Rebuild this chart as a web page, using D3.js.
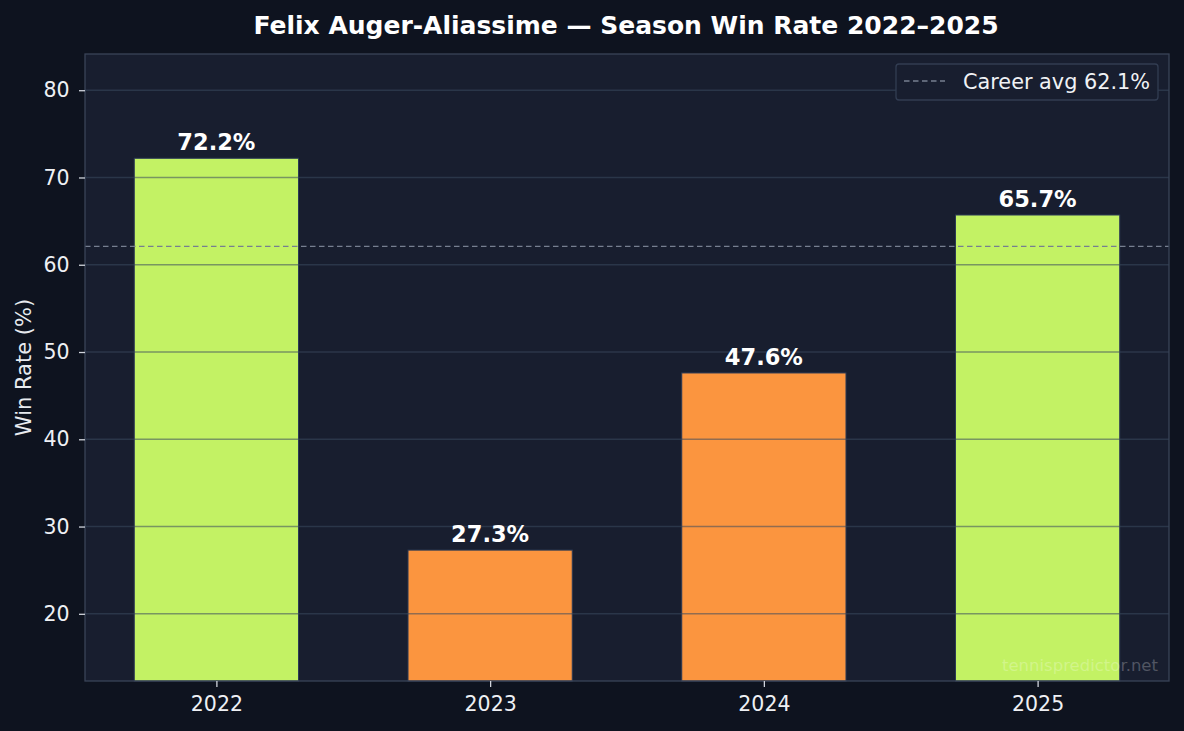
<!DOCTYPE html>
<html><head><meta charset="utf-8">
<script src="https://cdn.jsdelivr.net/npm/d3@7"></script>
<style>html,body{margin:0;padding:0;background:#0e131f;}svg{display:block;font-family:"DejaVu Sans",sans-serif;}</style>
</head><body>
<svg id="c" width="1184" height="731"></svg>
<script>
const years = ["2022","2023","2024","2025"];
const winRates = [72.2, 27.3, 47.6, 65.7];
const barColors = ["#c3f264","#fb953f","#fb953f","#c3f264"];
const yTicks = [20,30,40,50,60,70,80];
const careerAvg = 62.1;
const titleText = "Felix Auger-Aliassime \u2014 Season Win Rate 2022\u20132025";

const svg = d3.select("#c");
const L=85, R=1169, T=54, B=681;
svg.append("rect").attr("width",1184).attr("height",731).attr("fill","#0e131f");
svg.append("rect").attr("x",L).attr("y",T).attr("width",R-L).attr("height",B-T).attr("fill","#181e2f");

const x = d3.scaleLinear().domain([-0.48, 3.48]).range([L,R]);
const y = d3.scaleLinear().domain([12.3, 84.15]).range([B,T]);
const bw = x(0.6)-x(0);

// bars
svg.selectAll(".bar").data(winRates).join("rect")
  .attr("x",(d,i)=>x(i)-bw/2).attr("y",d=>y(d))
  .attr("width",bw).attr("height",d=>B-y(d))
  .attr("fill",(d,i)=>barColors[i]).attr("stroke","#2c3a55").attr("stroke-width",1);

// grid (drawn over bars)
svg.selectAll(".grid").data(yTicks).join("line")
  .attr("x1",L).attr("x2",R).attr("y1",d=>y(d)).attr("y2",d=>y(d))
  .attr("stroke","#3a4a5e").attr("stroke-opacity",0.55).attr("stroke-width",1.6);

// career avg line
svg.append("line").attr("x1",L).attr("x2",R).attr("y1",y(careerAvg)).attr("y2",y(careerAvg))
  .attr("stroke","#767f90").attr("stroke-width",1.3).attr("stroke-dasharray","5.5,3.5");

// value labels
svg.selectAll(".lbl").data(winRates).join("text")
  .attr("x",(d,i)=>x(i)).attr("y",d=>y(d)-8)
  .attr("text-anchor","middle").attr("fill","#ffffff").attr("font-weight","bold").attr("font-size",22.5)
  .text(d=>d.toFixed(1)+"%");

// spines
svg.append("rect").attr("x",L).attr("y",T).attr("width",R-L).attr("height",B-T)
  .attr("fill","none").attr("stroke","#3a4458").attr("stroke-width",1.3);

// y axis
const yAxis = d3.axisLeft(y).tickValues(yTicks).tickSize(6).tickPadding(9.5).tickFormat(d3.format("d"));
const gy = svg.append("g").attr("transform",`translate(${L},0)`).call(yAxis);
gy.select(".domain").remove();
gy.selectAll(".tick line").attr("stroke","#d0d4dc").attr("stroke-width",1.3);
gy.selectAll(".tick text").attr("fill","#eef0f4").attr("font-size",20.5).attr("font-family","DejaVu Sans");

// x axis
const xAxis = d3.axisBottom(x).tickValues([0,1,2,3]).tickSize(6).tickPadding(9.5).tickFormat(i=>years[i]);
const gx = svg.append("g").attr("transform",`translate(0,${B})`).call(xAxis);
gx.select(".domain").remove();
gx.selectAll(".tick line").attr("stroke","#d0d4dc").attr("stroke-width",1.3);
gx.selectAll(".tick text").attr("fill","#eef0f4").attr("font-size",20.5).attr("font-family","DejaVu Sans");

// y label
svg.append("text").attr("transform",`translate(31,${(T+B)/2}) rotate(-90)`)
  .attr("text-anchor","middle").attr("fill","#e8ebf0").attr("font-size",21).text("Win Rate (%)");

// title
svg.append("text").attr("x",626).attr("y",34).attr("text-anchor","middle")
  .attr("fill","#ffffff").attr("font-weight","bold").attr("font-size",25).text(titleText);

// legend
const lg = svg.append("g");
lg.append("rect").attr("x",896).attr("y",64).attr("width",262).attr("height",36).attr("rx",3)
  .attr("fill","#181e2f").attr("stroke","#323d52").attr("stroke-width",1.3);
lg.append("line").attr("x1",904).attr("x2",945).attr("y1",81).attr("y2",81)
  .attr("stroke","#767f90").attr("stroke-width",1.3).attr("stroke-dasharray","5.5,3.5");
lg.append("text").attr("x",963).attr("y",89).attr("fill","#f0f2f5").attr("font-size",20.8).text("Career avg "+careerAvg+"%");

// watermark
svg.append("text").attr("x",1158).attr("y",671).attr("text-anchor","end")
  .attr("fill","#ffffff").attr("fill-opacity",0.25).attr("font-size",16.5).text("tennispredictor.net");
</script>
</body></html>
